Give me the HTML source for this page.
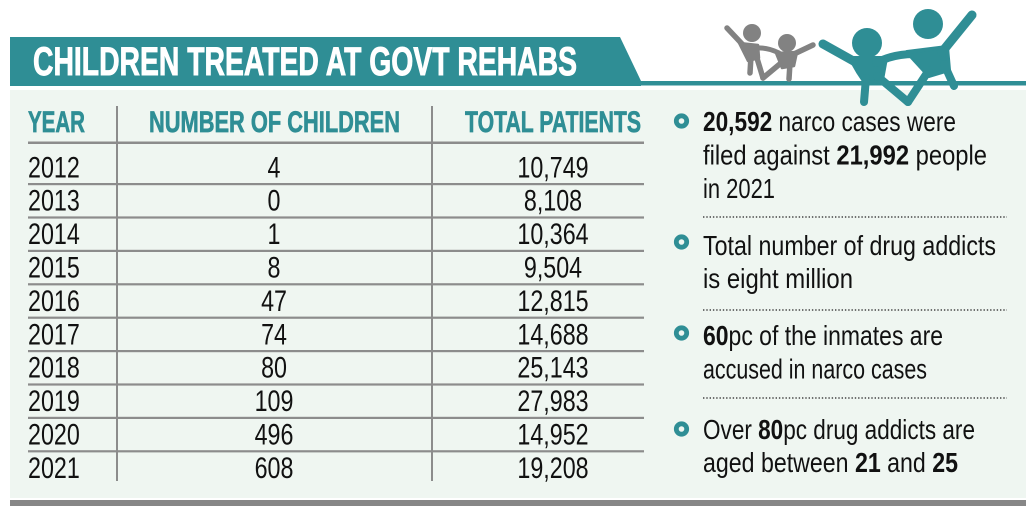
<!DOCTYPE html>
<html>
<head>
<meta charset="utf-8">
<style>
  html,body{margin:0;padding:0;background:#ffffff;}
  body{width:1036px;height:516px;overflow:hidden;}
  svg{display:block;}
</style>
</head>
<body>
<svg width="1036" height="516" viewBox="0 0 1036 516" xmlns="http://www.w3.org/2000/svg">
  <!-- panel background -->
  <rect x="10" y="90" width="1016" height="408" fill="#eff6f1"/>
  <!-- bottom gray bar -->
  <rect x="10" y="500" width="1016" height="6" fill="#878787"/>

  <!-- title bar -->
  <polygon points="10,37 620,37 641,81 641,86 10,86" fill="#2f8e95"/>
  <rect x="640" y="81" width="386" height="4.5" fill="#2f8e95"/>
  <text x="33" y="75" font-family="Liberation Sans, sans-serif" font-weight="bold" font-size="40" fill="#ffffff" stroke="#ffffff" stroke-width="0.9" textLength="544" lengthAdjust="spacingAndGlyphs">CHILDREN TREATED AT GOVT REHABS</text>

  <!-- gray kids -->
  <g fill="#828282" stroke="#828282" stroke-linecap="round" stroke-linejoin="round">
    <circle cx="752" cy="33" r="9" stroke="none"/>
    <line x1="727" y1="28" x2="744" y2="46" stroke-width="5.5"/>
    <polygon points="739,43 758,45 759,58 748,61" stroke-width="2.5"/>
    <line x1="751" y1="56" x2="750" y2="73" stroke-width="5.5"/>
    <line x1="756" y1="55" x2="763" y2="78" stroke-width="5.5"/>
    <path d="M755,48 Q767,47 779,53" fill="none" stroke-width="5"/>
    <circle cx="787" cy="43" r="9" stroke="none"/>
    <polygon points="776,53 797,52 794,66 782,68" stroke-width="2.5"/>
    <line x1="794" y1="54" x2="813" y2="45" stroke-width="5.5"/>
    <line x1="781" y1="63" x2="763" y2="78" stroke-width="5.5"/>
    <line x1="790" y1="63" x2="789" y2="79" stroke-width="5.5"/>
  </g>

  <!-- teal kids -->
  <g fill="#2f8e95" stroke="#2f8e95" stroke-linecap="round" stroke-linejoin="round">
    <circle cx="867" cy="43" r="15" stroke="none"/>
    <line x1="823" y1="44" x2="857" y2="63" stroke-width="9"/>
    <polygon points="850,58 886,58 882,80 866,84 858,72" stroke-width="4"/>
    <line x1="866" y1="78" x2="864" y2="102" stroke-width="8"/>
    <line x1="877" y1="76" x2="908" y2="102" stroke-width="8"/>
    <path d="M876,63 Q893,54 914,54" fill="none" stroke-width="8"/>
    <circle cx="928" cy="24" r="15" stroke="none"/>
    <polygon points="907,52 947,47 949,70 929,76" stroke-width="4"/>
    <line x1="942" y1="52" x2="972" y2="15" stroke-width="9"/>
    <line x1="929" y1="70" x2="908" y2="102" stroke-width="8"/>
    <line x1="944" y1="64" x2="954" y2="86" stroke-width="8"/>
  </g>

  <!-- table lines -->
  <g fill="#8c8c8c">
    <rect x="116" y="106" width="2" height="375"/>
    <rect x="431" y="106" width="2" height="375"/>
    <rect x="28" y="141.5" width="616" height="2.5"/>
    <rect x="28" y="183" width="616" height="2.2"/>
    <rect x="28" y="216.4" width="616" height="2.2"/>
    <rect x="28" y="249.8" width="616" height="2.2"/>
    <rect x="28" y="283.2" width="616" height="2.2"/>
    <rect x="28" y="316.6" width="616" height="2.2"/>
    <rect x="28" y="350" width="616" height="2.2"/>
    <rect x="28" y="383.4" width="616" height="2.2"/>
    <rect x="28" y="416.8" width="616" height="2.2"/>
    <rect x="28" y="450.2" width="616" height="2.2"/>
  </g>

  <!-- table header -->
  <g font-family="Liberation Sans, sans-serif" font-weight="bold" font-size="30" fill="#2f8e95" stroke="#2f8e95" stroke-width="0.7">
    <text x="28" y="132" textLength="57" lengthAdjust="spacingAndGlyphs">YEAR</text>
    <text x="149" y="132" textLength="251" lengthAdjust="spacingAndGlyphs">NUMBER OF CHILDREN</text>
    <text x="465" y="132" textLength="176" lengthAdjust="spacingAndGlyphs">TOTAL PATIENTS</text>
  </g>

  <!-- table rows -->
  <g transform="scale(0.789,1)" font-family="Liberation Sans, sans-serif" font-size="29.5" fill="#111111">
    <g>
      <text x="35.5" y="177.3">2012</text>
      <text x="35.5" y="210.7">2013</text>
      <text x="35.5" y="244.1">2014</text>
      <text x="35.5" y="277.5">2015</text>
      <text x="35.5" y="310.9">2016</text>
      <text x="35.5" y="344.3">2017</text>
      <text x="35.5" y="377.7">2018</text>
      <text x="35.5" y="411.1">2019</text>
      <text x="35.5" y="444.5">2020</text>
      <text x="35.5" y="477.9">2021</text>
    </g>
    <g text-anchor="middle">
      <text x="347.3" y="177.3">4</text>
      <text x="347.3" y="210.7">0</text>
      <text x="347.3" y="244.1">1</text>
      <text x="347.3" y="277.5">8</text>
      <text x="347.3" y="310.9">47</text>
      <text x="347.3" y="344.3">74</text>
      <text x="347.3" y="377.7">80</text>
      <text x="347.3" y="411.1">109</text>
      <text x="347.3" y="444.5">496</text>
      <text x="347.3" y="477.9">608</text>
    </g>
    <g text-anchor="middle">
      <text x="700.9" y="177.3">10,749</text>
      <text x="700.9" y="210.7">8,108</text>
      <text x="700.9" y="244.1">10,364</text>
      <text x="700.9" y="277.5">9,504</text>
      <text x="700.9" y="310.9">12,815</text>
      <text x="700.9" y="344.3">14,688</text>
      <text x="700.9" y="377.7">25,143</text>
      <text x="700.9" y="411.1">27,983</text>
      <text x="700.9" y="444.5">14,952</text>
      <text x="700.9" y="477.9">19,208</text>
    </g>
  </g>

  <!-- bullets -->
  <g fill="none" stroke="#2f8e95" stroke-width="4.8">
    <circle cx="681.5" cy="121" r="5.2"/>
    <circle cx="681.5" cy="242" r="5.2"/>
    <circle cx="681.5" cy="333" r="5.2"/>
    <circle cx="681.5" cy="429" r="5.2"/>
  </g>

  <!-- dotted separators -->
  <g stroke="#444444" stroke-width="1.6" stroke-dasharray="1.4 1.9">
    <line x1="703" y1="217" x2="1007" y2="217"/>
    <line x1="703" y1="310" x2="1007" y2="310"/>
    <line x1="703" y1="398" x2="1007" y2="398"/>
  </g>

  <!-- right text -->
  <g font-family="Liberation Sans, sans-serif" font-size="27.5" fill="#111111">
    <text x="703" y="131" textLength="253" lengthAdjust="spacingAndGlyphs"><tspan font-weight="bold">20,592</tspan> narco cases were</text>
    <text x="703" y="164.5" textLength="284" lengthAdjust="spacingAndGlyphs">filed against <tspan font-weight="bold">21,992</tspan> people</text>
    <text x="703" y="198" textLength="72" lengthAdjust="spacingAndGlyphs">in 2021</text>

    <text x="703" y="255" textLength="293" lengthAdjust="spacingAndGlyphs">Total number of drug addicts</text>
    <text x="703" y="288" textLength="150" lengthAdjust="spacingAndGlyphs">is eight million</text>

    <text x="703" y="345" textLength="240" lengthAdjust="spacingAndGlyphs"><tspan font-weight="bold">60</tspan>pc of the inmates are</text>
    <text x="703" y="378.3" textLength="224" lengthAdjust="spacingAndGlyphs">accused in narco cases</text>

    <text x="703" y="439" textLength="272" lengthAdjust="spacingAndGlyphs">Over <tspan font-weight="bold">80</tspan>pc drug addicts are</text>
    <text x="703" y="472" textLength="255" lengthAdjust="spacingAndGlyphs">aged between <tspan font-weight="bold">21</tspan> and <tspan font-weight="bold">25</tspan></text>
  </g>
</svg>
</body>
</html>
